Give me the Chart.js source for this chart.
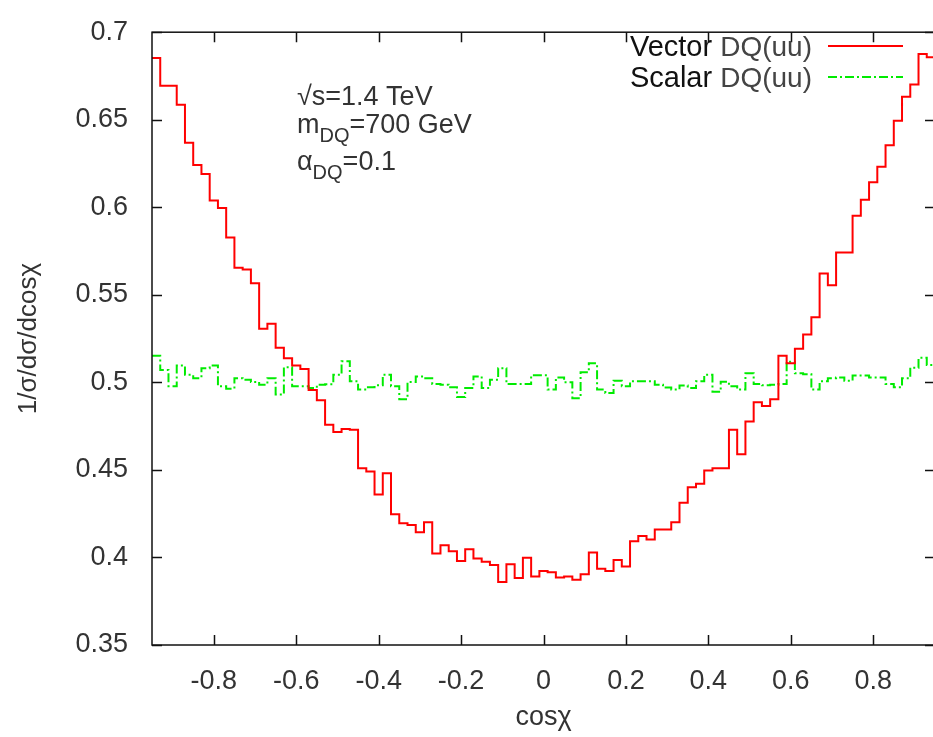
<!DOCTYPE html>
<html>
<head>
<meta charset="utf-8">
<script src="https://cdn.jsdelivr.net/npm/chart.js@4.4.1/dist/chart.umd.min.js"></script>
<style>
  html, body { margin: 0; padding: 0; background: #fff; overflow: hidden; }
  #wrap { width: 940px; height: 737px; }
</style>
</head>
<body>
<div id="wrap"><canvas id="angChart" width="940" height="737"></canvas></div>
<script>
// cos(chi) histogram, 0.02 wide bins between -0.95 and 0.95
const xMin = -0.95;
const binWidth = 0.02;

// normalised distributions, one value per bin (left to right)
const vectorDQ = [
    0.6853, 0.6694, 0.6694, 0.6585, 0.6368, 0.6242, 0.6190, 0.6039, 0.5996, 0.5827,
    0.5654, 0.5645, 0.5566, 0.5306, 0.5335, 0.5198, 0.5138, 0.5097, 0.5076, 0.4956,
    0.4898, 0.4758, 0.4716, 0.4734, 0.4730, 0.4510, 0.4491, 0.4360, 0.4481, 0.4247,
    0.4196, 0.4185, 0.4144, 0.4201, 0.4022, 0.4070, 0.4036, 0.3980, 0.4047, 0.3994,
    0.3976, 0.3957, 0.3860, 0.3961, 0.3882, 0.3998, 0.3891, 0.3923, 0.3916, 0.3886,
    0.3891, 0.3873, 0.3904, 0.4028, 0.3935, 0.3923, 0.3985, 0.3948, 0.4092, 0.4122,
    0.4103, 0.4160, 0.4160, 0.4201, 0.4313, 0.4401, 0.4421, 0.4496, 0.4510, 0.4510,
    0.4729, 0.4590, 0.4776, 0.4887, 0.4865, 0.4903, 0.5152, 0.5109, 0.5192, 0.5274,
    0.5372, 0.5622, 0.5555, 0.5742, 0.5742, 0.5951, 0.6043, 0.6143, 0.6231, 0.6355,
    0.6494, 0.6632, 0.6701, 0.6876, 0.6857
];
const scalarDQ = [
    0.5152, 0.5071, 0.4978, 0.5096, 0.5043, 0.5024, 0.5081, 0.5096, 0.4978, 0.4964,
    0.5024, 0.5015, 0.5002, 0.4987, 0.5024, 0.4931, 0.5086, 0.4978, 0.4978, 0.4968,
    0.4987, 0.4989, 0.5043, 0.5120, 0.5006, 0.4959, 0.4972, 0.4983, 0.5043, 0.4978,
    0.4903, 0.5002, 0.5034, 0.5024, 0.4991, 0.4987, 0.4972, 0.4916, 0.4968, 0.5034,
    0.4968, 0.5015, 0.5081, 0.4991, 0.4991, 0.4991, 0.5041, 0.5041, 0.4959, 0.5028,
    0.5000, 0.4910, 0.5058, 0.5109, 0.4959, 0.4940, 0.5009, 0.4978, 0.5006, 0.5006,
    0.5006, 0.4987, 0.4970, 0.4959, 0.4982, 0.4968, 0.5007, 0.5043, 0.4946, 0.5004,
    0.4978, 0.4959, 0.5052, 0.4991, 0.4983, 0.4987, 0.4990, 0.5118, 0.5052, 0.5047,
    0.4959, 0.5006, 0.5024, 0.5028, 0.5009, 0.5039, 0.5039, 0.5028, 0.5028, 0.4991,
    0.4972, 0.5024, 0.5084, 0.5140, 0.5099
];

const xTicks = [-0.8, -0.6, -0.4, -0.2, 0, 0.2, 0.4, 0.6, 0.8];
const xTickLabels = ["-0.8", "-0.6", "-0.4", "-0.2", "0", "0.2", "0.4", "0.6", "0.8"];
const yTicks = [0.35, 0.4, 0.45, 0.5, 0.55, 0.6, 0.65, 0.7];
const yTickLabels = ["0.35", "0.4", "0.45", "0.5", "0.55", "0.6", "0.65", "0.7"];

const seriesNames = ["Vector", "Scalar"];
const FONT = "'Liberation Sans', Arial, sans-serif";

// bin edges; each bin is drawn as a flat step from its left edge to the next one
const binEdges = [];
for (let i = 0; i <= vectorDQ.length; i++) {
    binEdges.push(+(xMin + i * binWidth).toFixed(2));
}
function stepPoints(values) {
    const pts = values.map((v, i) => ({ x: binEdges[i], y: v }));
    pts.push({ x: binEdges[values.length], y: values[values.length - 1] });
    return pts;
}

function labelFor(values, labels, v) {
    const i = values.findIndex((t) => Math.abs(t - v) < 1e-6);
    return i >= 0 ? labels[i] : "";
}

// draws text pieces one after another, subscripts smaller and lowered
function drawRuns(ctx, x, y, runs) {
    runs.forEach((r) => {
        ctx.font = (r.size || 27) + "px " + FONT;
        ctx.fillStyle = r.color || "#333";
        ctx.fillText(r.t, x, y + (r.dy || 0));
        x += ctx.measureText(r.t).width;
    });
}
function runsWidth(ctx, runs) {
    return runs.reduce((w, r) => {
        ctx.font = (r.size || 27) + "px " + FONT;
        return w + ctx.measureText(r.t).width;
    }, 0);
}

// frame with inward ticks on all four sides, key and parameter labels
const frame = {
    id: "frame",
    afterDraw(chart) {
        const { ctx, chartArea: a, scales } = chart;
        const x = scales.x, y = scales.y;
        ctx.save();
        ctx.strokeStyle = "#111";
        ctx.lineWidth = 1.5;
        ctx.strokeRect(a.left, a.top, a.right - a.left, a.bottom - a.top);
        ctx.beginPath();
        xTicks.forEach((v) => {
            const px = Math.round(x.getPixelForValue(v)) + 0.5;
            ctx.moveTo(px, a.bottom); ctx.lineTo(px, a.bottom - 10);
            ctx.moveTo(px, a.top); ctx.lineTo(px, a.top + 10);
        });
        yTicks.forEach((v) => {
            const py = Math.round(y.getPixelForValue(v)) + 0.5;
            ctx.moveTo(a.left, py); ctx.lineTo(a.left + 10, py);
            ctx.moveTo(a.right, py); ctx.lineTo(a.right - 10, py);
        });
        ctx.stroke();

        // key
        ctx.textBaseline = "alphabetic";
        const keyRight = 812;
        const keyRows = [56, 87];
        chart.data.datasets.forEach((ds, i) => {
            const runs = [
                { t: seriesNames[i] + " ", size: 29, color: "#111" },
                { t: "DQ(uu)", size: 28, color: "#444" }
            ];
            drawRuns(ctx, keyRight - runsWidth(ctx, runs), keyRows[i], runs);
            ctx.beginPath();
            ctx.strokeStyle = ds.borderColor;
            ctx.lineWidth = ds.borderWidth;
            ctx.setLineDash(ds.borderDash || []);
            ctx.moveTo(828, keyRows[i] - 10);
            ctx.lineTo(903, keyRows[i] - 10);
            ctx.stroke();
            ctx.setLineDash([]);
        });

        // run parameters
        drawRuns(ctx, 297, 105, [{ t: "\u221As=1.4 TeV" }]);
        drawRuns(ctx, 297, 133, [{ t: "m" }, { t: "DQ", size: 20, dy: 9 }, { t: "=700 GeV" }]);
        drawRuns(ctx, 297, 170, [{ t: "\u03B1" }, { t: "DQ", size: 20, dy: 9 }, { t: "=0.1" }]);
        ctx.restore();
    }
};

Chart.defaults.font.family = FONT;
Chart.defaults.color = "#333";

const ctx = document.getElementById("angChart").getContext("2d");
new Chart(ctx, {
    type: "line",
    data: {
        datasets: [
            {
                label: "Vector DQ(uu)",
                data: stepPoints(vectorDQ),
                borderColor: "rgb(255, 0, 0)",
                borderWidth: 2,
                stepped: "before",
                pointRadius: 0,
                fill: false,
            },
            {
                label: "Scalar DQ(uu)",
                data: stepPoints(scalarDQ),
                borderColor: "rgb(0, 235, 0)",
                borderWidth: 2,
                borderDash: [9, 3, 2, 3],
                stepped: "before",
                pointRadius: 0,
                fill: false,
            },
        ],
    },
    options: {
        responsive: false,
        animation: false,
        devicePixelRatio: 1,
        layout: { padding: { top: 22, right: 5, left: 0, bottom: 0 } },
        plugins: {
            legend: { display: false },
            tooltip: { enabled: false },
        },
        scales: {
            x: {
                type: "linear",
                min: xMin,
                max: 0.95,
                grid: { display: false },
                border: { display: false },
                afterBuildTicks: (scale) => {
                    scale.ticks = xTicks.map((v) => ({ value: v }));
                },
                afterFit: (scale) => {
                    scale.height = 92;
                },
                ticks: {
                    padding: 12,
                    maxRotation: 0,
                    font: { size: 27 },
                    color: "#333",
                    callback: (v) => labelFor(xTicks, xTickLabels, v),
                },
                title: {
                    display: true,
                    text: "cos\u03C7",
                    font: { size: 27 },
                    color: "#333",
                    padding: { top: 0, bottom: 3 },
                },
            },
            y: {
                min: 0.35,
                max: 0.7,
                grid: { display: false },
                border: { display: false },
                afterBuildTicks: (scale) => {
                    scale.ticks = yTicks.map((v) => ({ value: v }));
                },
                afterFit: (scale) => {
                    scale.width = 152;
                },
                ticks: {
                    padding: 16,
                    font: { size: 27 },
                    color: "#333",
                    callback: (v) => labelFor(yTicks, yTickLabels, v),
                },
                title: {
                    display: true,
                    text: "1/\u03C3/d\u03C3/dcos\u03C7",
                    font: { size: 26 },
                    color: "#333",
                    padding: { top: 13, bottom: 0 },
                },
            },
        },
    },
    plugins: [frame],
});
</script>
</body>
</html>
